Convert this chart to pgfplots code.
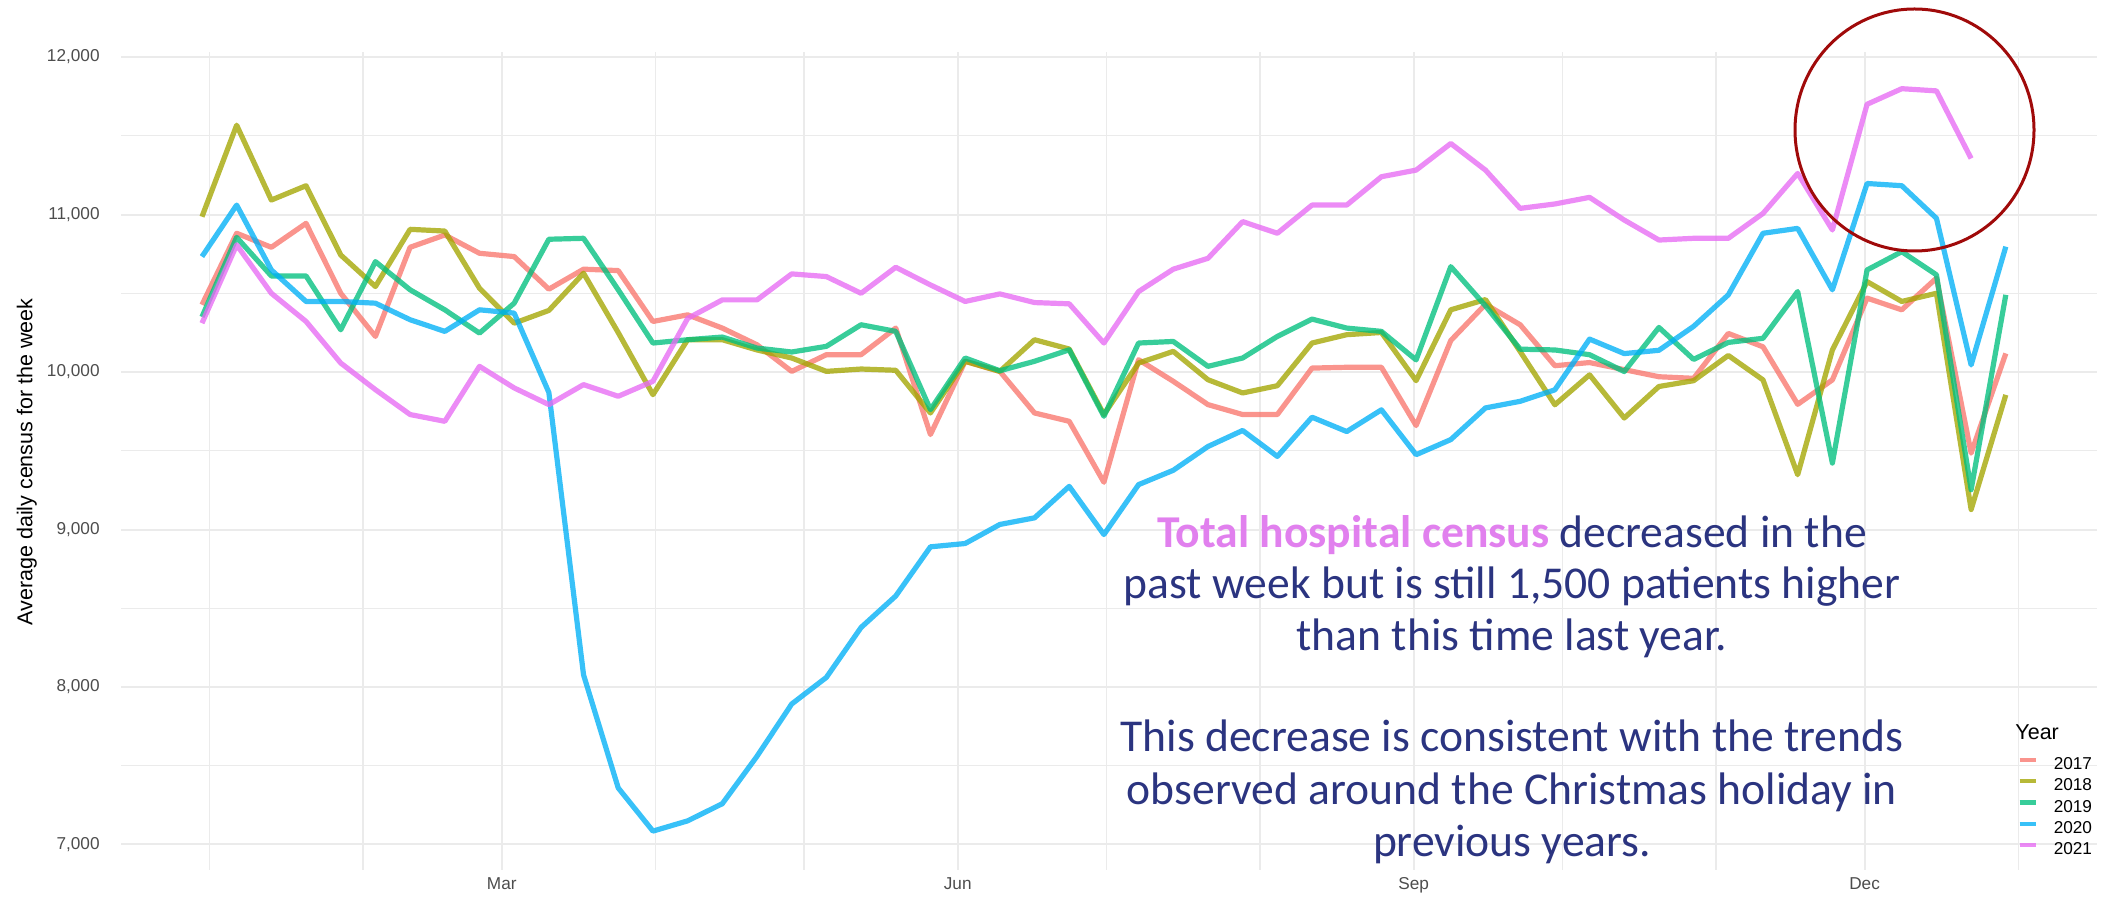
\documentclass[border=0pt]{standalone}
\usepackage{pgfplots}
\pgfplotsset{compat=1.18}
\usepackage{pgfplotstable}
\usepackage{fontspec}
\setmainfont{Liberation Sans}
\newfontfamily\carlito{Carlito}
\definecolor{c2017}{HTML}{F8766D}
\definecolor{c2018}{HTML}{A3A500}
\definecolor{c2019}{HTML}{00BF7D}
\definecolor{c2020}{HTML}{00B0F6}
\definecolor{c2021}{HTML}{E76BF3}
\definecolor{gridgray}{HTML}{EBEBEB}
\definecolor{tickgray}{HTML}{4D4D4D}
\definecolor{navytext}{RGB}{43,52,128}
\definecolor{pinktext}{RGB}{225,128,238}
\definecolor{circred}{RGB}{160,10,10}

\pgfplotstableread{
x y2017 y2018 y2019 y2020 y2021
-1.5 10427 10986 10350 10733 10310
5.5 10881 11567 10855 11060 10807
12.5 10792 11092 10610 10648 10500
19.5 10944 11183 10610 10448 10321
26.5 10500 10743 10268 10448 10057
33.5 10226 10543 10701 10437 9888
40.5 10792 10906 10522 10332 9730
47.5 10870 10895 10395 10258 9687
54.5 10754 10532 10247 10395 10036
61.5 10733 10310 10437 10374 9899
68.5 10526 10391 10843 9870 9793
75.5 10653 10627 10849 8077 9920
82.5 10644 10250 10522 7359 9846
89.5 10321 9856 10184 7085 9941
96.5 10363 10205 10205 7150 10340
103.5 10279 10205 10222 7259 10458
110.5 10173 10140 10152 7560 10458
117.5 10004 10089 10127 7892 10623
124.5 10110 10004 10163 8061 10606
131.5 10110 10019 10300 8378 10500
138.5 10279 10011 10258 8578 10665
145.5 9603 9740 9761 8890 10553
152.5 10068 10068 10089 8911 10448
159.5 10004 10004 10008 9032 10496
166.5 9740 10205 10068 9074 10441
173.5 9687 10146 10141 9274 10433
180.5 9300 9730 9719 8968 10184
187.5 10078 10057 10184 9285 10511
194.5 9941 10131 10194 9376 10653
201.5 9793 9951 10036 9527 10722
208.5 9730 9867 10089 9629 10955
215.5 9730 9913 10226 9464 10881
222.5 10025 10184 10336 9713 11060
229.5 10030 10237 10279 9622 11060
236.5 10030 10251 10258 9760 11240
243.5 9660 9945 10077 9475 11282
250.5 10200 10395 10669 9571 11451
257.5 10430 10460 10420 9772 11282
264.5 10300 10130 10145 9814 11039
271.5 10040 9792 10140 9887 11067
278.5 10060 9982 10110 10209 11109
285.5 10015 9708 10003 10117 10965
292.5 9970 9908 10283 10138 10838
299.5 9960 9945 10080 10290 10849
306.5 10245 10105 10188 10490 10849
313.5 10160 9950 10214 10881 11007
320.5 9795 9348 10511 10912 11261
327.5 9950 10140 9422 10522 10902
334.5 10469 10574 10648 11197 11700
341.5 10395 10448 10764 11183 11799
348.5 10596 10500 10617 10976 11785
355.5 9485 9127 9253 10045 11356
362.5 10118 9855 10490 10796 nan
}\census

\begin{document}
\begin{tikzpicture}
\useasboundingbox (-60.5pt,-15pt) rectangle (992pt,435pt);
\begin{axis}[
  scale only axis, width=988pt, height=409pt,
  xmin=-17.84, xmax=380.9, ymin=6838, ymax=12032,
  axis line style={draw=none},
  major tick length=0pt, minor tick length=0pt,
  scaled y ticks=false,
  xtick={59,151,243,334}, xticklabels={Mar,Jun,Sep,Dec},
  minor xtick={0,31,90,120,181,212,273,304,365},
  ytick={7000,8000,9000,10000,11000,12000},
  yticklabels={{7,000},{8,000},{9,000},{10,000},{11,000},{12,000}},
  minor ytick={7500,8500,9500,10500,11500},
  grid=both,
  major grid style={color=gridgray, line width=1pt},
  minor grid style={color=gridgray, line width=0.6pt},
  /pgf/number format/assume math mode=true,
  ticklabel style={font=\fontsize{8.6}{10}\selectfont, text=tickgray},
  xticklabel style={inner sep=0pt, anchor=north, yshift=-3.5pt},
  yticklabel style={inner sep=0pt, anchor=east, xshift=-10.5pt},
  ylabel={Average daily census for the week},
  ylabel style={font=\fontsize{10.75}{12}\selectfont, at={(axis description cs:-0.0476,0.4988)}, anchor=center},
  legend cell align=left,
  legend style={at={(axis description cs:0.9595,0.1377)}, anchor=north west,
    draw=none, fill=none, inner sep=0pt,
    font=\fontsize{8.6}{10}\selectfont, row sep=3.1pt,
    nodes={inner sep=0pt},
    /tikz/every odd column/.append style={column sep=8pt}},
  legend image code/.code={\draw[#1, line width=2.2pt] (0pt,2.6pt) -- (8pt,2.6pt);},
  every axis plot/.append style={line width=2.6pt, opacity=0.78, line join=round},
]
\addplot[color=c2017] table[x=x, y=y2017] {\census};
\addlegendentry{2017}
\addplot[color=c2018] table[x=x, y=y2018] {\census};
\addlegendentry{2018}
\addplot[color=c2019] table[x=x, y=y2019] {\census};
\addlegendentry{2019}
\addplot[color=c2020] table[x=x, y=y2020] {\census};
\addlegendentry{2020}
\addplot[color=c2021] table[x=x, y=y2021] {\census};
\addlegendentry{2021}
\end{axis}
\draw[circred, line width=1.5pt] (896.75pt,370pt) ellipse [x radius=59.75pt, y radius=60.5pt];
\node[anchor=west, inner sep=0pt, font=\fontsize{10.75}{12}\selectfont] at (947pt,69pt) {Year};
\begin{scope}[every node/.style={anchor=base, inner sep=0pt, font=\carlito\fontsize{22.8}{25.75}\selectfont, text=navytext}]
\node at (695.5pt,161pt) {{\bfseries\color{pinktext}Total hospital census} decreased in the};
\node at (695.5pt,135.5pt) {past week but is still 1,500 patients higher};
\node at (695.5pt,109.5pt) {than this time last year.};
\node at (695.5pt,59pt) {This decrease is consistent with the trends};
\node at (695.5pt,33pt) {observed around the Christmas holiday in};
\node at (695.5pt,7pt) {previous years.};
\end{scope}
\end{tikzpicture}
\end{document}
